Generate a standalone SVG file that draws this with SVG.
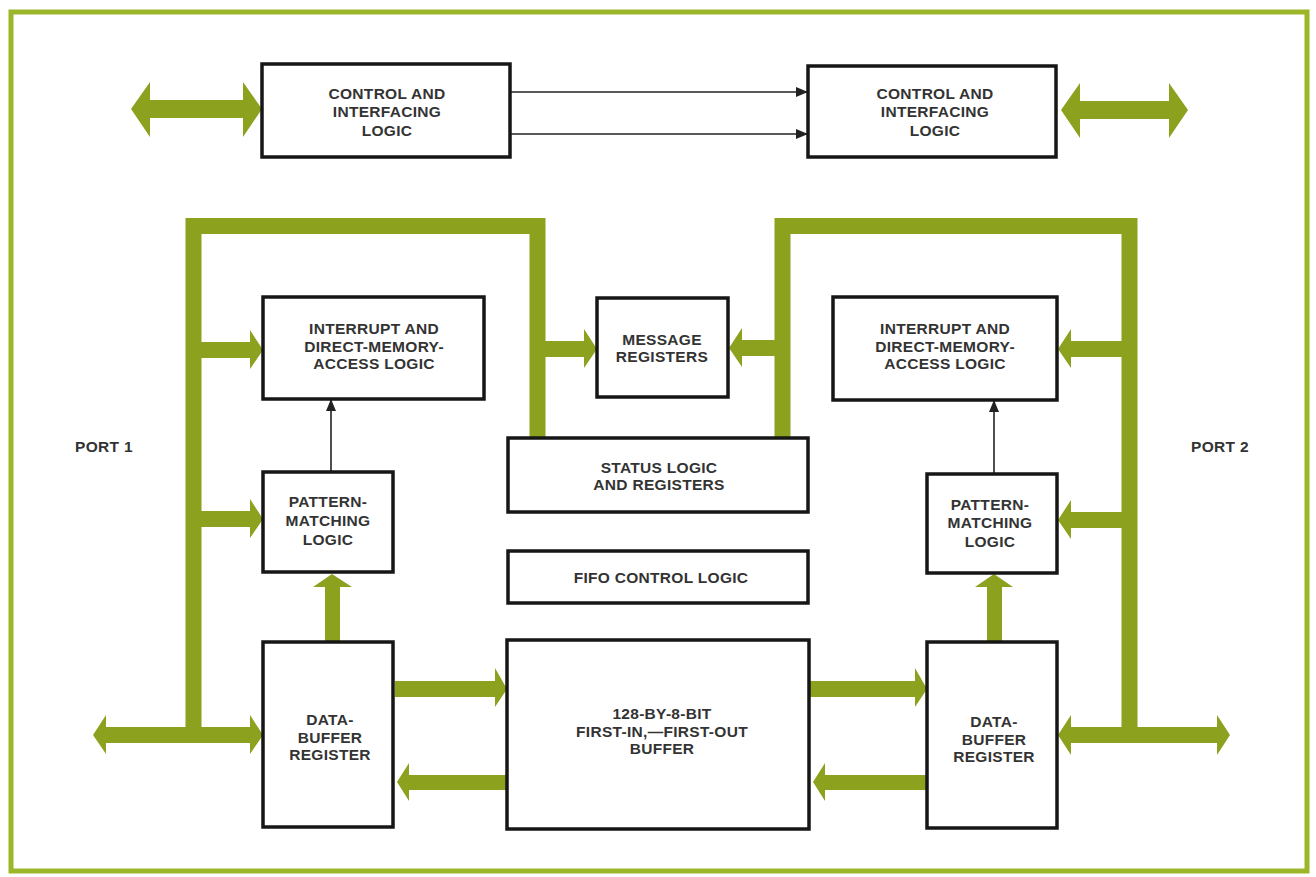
<svg xmlns="http://www.w3.org/2000/svg" width="1316" height="877" viewBox="0 0 1316 877">
<defs>
<style>
.box{fill:#fff;stroke:#161616;stroke-width:3.5}
.bus{fill:none;stroke:#8ca21f;stroke-width:16;stroke-linejoin:miter}
.g{fill:#8ca21f}
.thin{stroke:#222;stroke-width:1.6;fill:none}
text{font-family:"Liberation Sans",Arial,sans-serif;font-weight:bold;font-size:15.5px;fill:#333;text-anchor:middle;letter-spacing:0.3px}
</style>
<marker id="ah" markerWidth="12" markerHeight="10" refX="11" refY="5" orient="auto" markerUnits="userSpaceOnUse">
<path d="M0,0 L12,5 L0,10 Z" fill="#222"/>
</marker>
</defs>
<rect width="1316" height="877" fill="#fff"/>
<rect x="11" y="12" width="1296" height="859" fill="none" stroke="#9cb62a" stroke-width="5"/>

<g id="connectors">
<line class="thin" x1="510" y1="92" x2="807" y2="92" marker-end="url(#ah)"/>
<line class="thin" x1="510" y1="134" x2="807" y2="134" marker-end="url(#ah)"/>
<line class="thin" x1="331" y1="472" x2="331" y2="400" marker-end="url(#ah)"/>
<line class="thin" x1="994" y1="474" x2="994" y2="401" marker-end="url(#ah)"/>
<path class="g" d="M131,109 L150,82 L150,100 L243,100 L243,82 L262,109 L243,137 L243,118 L150,118 L150,137 Z"/>
<path class="g" d="M1061,110 L1080,83 L1080,101 L1169,101 L1169,83 L1188,110 L1169,138 L1169,119 L1080,119 L1080,138 Z"/>
<polyline class="bus" points="193.5,736 193.5,226 537.5,226 537.5,438"/>
<polyline class="bus" points="1129.5,736 1129.5,226 782.5,226 782.5,438"/>
<path class="g" d="M200,342 L250,342 L250,330 L263,350 L250,369 L250,358 L200,358 Z"/>
<path class="g" d="M200,511 L250,511 L250,499 L263,519 L250,538 L250,527 L200,527 Z"/>
<path class="g" d="M545,341 L584,341 L584,329 L597,349 L584,368 L584,357 L545,357 Z"/>
<path class="g" d="M93,735 L106,715 L106,727 L250,727 L250,715 L263,735 L250,754 L250,743 L106,743 L106,754 Z"/>
<path class="g" d="M1122,341 L1071,341 L1071,329 L1058,349 L1071,368 L1071,357 L1122,357 Z"/>
<path class="g" d="M1122,512 L1071,512 L1071,500 L1058,520 L1071,539 L1071,528 L1122,528 Z"/>
<path class="g" d="M775,340 L742,340 L742,328 L729,348 L742,367 L742,356 L775,356 Z"/>
<path class="g" d="M1058,735 L1071,715 L1071,727 L1217,727 L1217,715 L1230,735 L1217,755 L1217,743 L1071,743 L1071,755 Z"/>
<path class="g" d="M325,642 L325,587 L313,587 L332,574 L352,587 L340,587 L340,642 Z"/>
<path class="g" d="M987,642 L987,587 L975,587 L994,574 L1013,587 L1002,587 L1002,642 Z"/>
<path class="g" d="M395,681 L495,681 L495,668 L507,689 L495,707 L495,697 L395,697 Z"/>
<path class="g" d="M507,775 L409,775 L409,763 L397,782 L409,801 L409,790 L507,790 Z"/>
<path class="g" d="M809,681 L915,681 L915,668 L927,689 L915,707 L915,697 L809,697 Z"/>
<path class="g" d="M927,775 L825,775 L825,763 L813,782 L825,801 L825,790 L927,790 Z"/>
</g>

<g id="ctrl1"><rect class="box" x="262" y="64" width="248" height="93"/>
<text x="387" y="99">CONTROL AND</text><text x="387" y="117">INTERFACING</text><text x="387" y="136">LOGIC</text></g>
<g id="ctrl2"><rect class="box" x="808" y="66" width="248" height="91"/>
<text x="935" y="99">CONTROL AND</text><text x="935" y="117">INTERFACING</text><text x="935" y="136">LOGIC</text></g>

<g id="int1"><rect class="box" x="263" y="297" width="221" height="102"/>
<text x="374" y="334">INTERRUPT AND</text><text x="374" y="352">DIRECT-MEMORY-</text><text x="374" y="369">ACCESS LOGIC</text></g>
<g id="int2"><rect class="box" x="833" y="297" width="224" height="103"/>
<text x="945" y="334">INTERRUPT AND</text><text x="945" y="352">DIRECT-MEMORY-</text><text x="945" y="369">ACCESS LOGIC</text></g>

<g id="msg"><rect class="box" x="597" y="298" width="131" height="99"/>
<text x="662" y="345">MESSAGE</text><text x="662" y="362">REGISTERS</text></g>

<g id="status"><rect class="box" x="508" y="438" width="300" height="74"/>
<text x="659" y="473">STATUS LOGIC</text><text x="659" y="490">AND REGISTERS</text></g>

<g id="fifoctl"><rect class="box" x="508" y="551" width="300" height="52"/>
<text x="661" y="583">FIFO CONTROL LOGIC</text></g>

<g id="pat1"><rect class="box" x="263" y="472" width="130" height="100"/>
<text x="328" y="507">PATTERN-</text><text x="328" y="526">MATCHING</text><text x="328" y="545">LOGIC</text></g>
<g id="pat2"><rect class="box" x="927" y="474" width="130" height="99"/>
<text x="990" y="510">PATTERN-</text><text x="990" y="528">MATCHING</text><text x="990" y="547">LOGIC</text></g>

<g id="dbr1"><rect class="box" x="263" y="642" width="130" height="185"/>
<text x="330" y="725">DATA-</text><text x="330" y="743">BUFFER</text><text x="330" y="760">REGISTER</text></g>
<g id="dbr2"><rect class="box" x="927" y="642" width="130" height="186"/>
<text x="994" y="727">DATA-</text><text x="994" y="745">BUFFER</text><text x="994" y="762">REGISTER</text></g>

<g id="fifo"><rect class="box" x="507" y="640" width="302" height="189"/>
<text x="662" y="719">128-BY-8-BIT</text><text x="662" y="737">FIRST-IN,—FIRST-OUT</text><text x="662" y="754">BUFFER</text></g>

<g id="port1"><text x="104" y="452">PORT 1</text></g>
<g id="port2"><text x="1220" y="452">PORT 2</text></g>
</svg>
